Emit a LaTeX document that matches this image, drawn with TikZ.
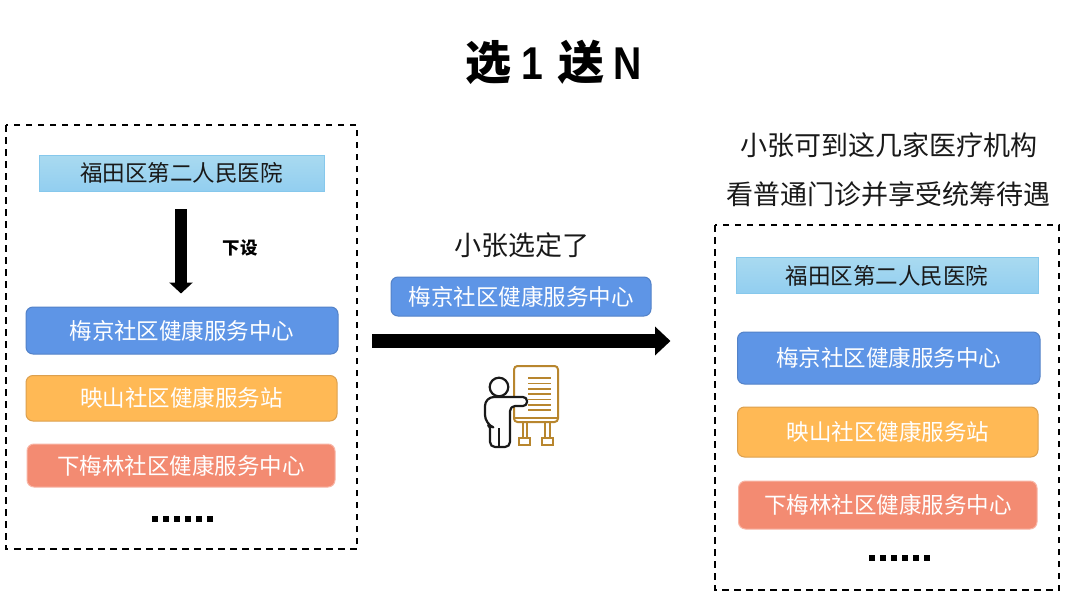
\documentclass[tikz,border=0pt]{standalone}
\usepackage{fontspec}
\setmainfont{Noto Sans CJK SC}
\newfontfamily\narrowlat[FakeStretch=0.85]{Liberation Sans Bold}
\usetikzlibrary{arrows.meta,calc}
\definecolor{blueF}{HTML}{5E95E6}\definecolor{blueD}{HTML}{5382C8}
\definecolor{orgF}{HTML}{FFB955}\definecolor{orgD}{HTML}{DCA04E}
\definecolor{redF}{HTML}{F38B72}\definecolor{redD}{HTML}{F8B5A5}
\definecolor{hospT}{HTML}{A9DAF0}\definecolor{hospB}{HTML}{92CEF0}\definecolor{hospD}{HTML}{86C8EC}
\definecolor{gold}{HTML}{B8862E}
\tikzset{
 x=1pt,y=-1pt,
 txt/.style={inner sep=0pt,font=\fontsize{22.5pt}{26pt}\selectfont},
 big/.style={inner sep=0pt,font=\fontsize{27pt}{32pt}\selectfont,text=black!90},
 dbox/.style={draw=black,line width=2pt,dash pattern=on 6.5pt off 5.5pt},
 pill/.style={rounded corners=7pt,line width=1pt},
 hospbox/.style={draw=hospD,line width=1pt,top color=hospT,bottom color=hospB},
 bluebox/.style={pill,draw=blueD,fill=blueF},
 orgbox/.style={pill,draw=orgD,fill=orgF},
 redbox/.style={pill,draw=redD,fill=redF},
 dotm/.style={fill=black},
 icongold/.style={draw=gold,line width=2pt},
 iconblk/.style={draw=black!90,line width=2.2pt,line join=round}
}
\begin{document}
\begin{tikzpicture}
\useasboundingbox (0,0) rectangle (1080,608);
\fill[white] (0,0) rectangle (1080,608);
\node[inner sep=0pt,font=\fontsize{46pt}{54pt}\selectfont\bfseries] (title) at (553.5,62) {选\hspace{10pt}{\narrowlat 1}\hspace{15pt}送\hspace{9pt}{\narrowlat N}};
% left panel
\draw[dbox] (6,125) rectangle (357,549);
\path[hospbox] (39.5,155) rectangle (324,191);
\node[txt,text=black!90] (lh) at (181.5,173) {福田区第二人民医院};
\path[bluebox] (26,307) rectangle (338,354);
\node[txt,text=white] (lb) at (182,330.5) {梅京社区健康服务中心};
\path[orgbox] (26,375.5) rectangle (337,421);
\node[txt,text=white] (lo) at (181.5,398) {映山社区健康服务站};
\path[redbox] (27,444) rectangle (335,487);
\node[txt,text=white] (lr) at (181,466) {下梅林社区健康服务中心};
\coordinate (da) at (181,209);
\coordinate (db) at (181,293.5);
\draw[line width=12pt,-{Triangle[length=11pt,width=23pt]}] (da) -- (db);
\node[inner sep=0pt,font=\fontsize{17.5pt}{20pt}\selectfont\bfseries] (xs) at (240,248) {下设};
\foreach \i in {0,...,5} \fill[dotm] ({152+\i*11},516) rectangle +(6,6);
% centre
\node[big] (pick) at (521.5,245) {小张选定了};
\path[bluebox] (391,277) rectangle (651,316);
\node[txt,text=white] (cb) at (521,296.5) {梅京社区健康服务中心};
\coordinate (aa) at (372,341);
\coordinate (ab) at (670.5,341);
\draw[line width=14pt,-{Triangle[length=15.5pt,width=28pt]}] (aa) -- (ab);
% icon
\draw[icongold,rounded corners=3.5pt] (514,366) rectangle (558,422);
\draw[icongold] (514,418) -- (558,418);
\foreach \yy in {378.3,383.6,388.9,394.2,399.5,404.8,410} \draw[gold,line width=1.7pt] (528,\yy) -- (551,\yy);
\draw[icongold] (522.5,422) -- (522.5,437) (527,422) -- (527,437) (544.5,422) -- (544.5,437) (549.5,422) -- (549.5,437);
\draw[icongold] (518.5,437.5) rectangle (530,445) (542,437.5) rectangle (553,445);
\draw[iconblk] (499,387) circle (9.3);
\draw[iconblk,fill=white,rounded corners=4pt] (510,406) -- (527,406) -- (527,397) -- (497,397) [rounded corners=9pt] -- (485,397) -- (485,424) [rounded corners=2pt] -- (490,426) [rounded corners=5pt] -- (490,447) -- (510,447) -- cycle;
\draw[iconblk] (499,428) -- (499,447);
% right
\node[big] (r1) at (888.5,145) {小张可到这几家医疗机构};
\node[big] (r2) at (888.5,194) {看普通门诊并享受统筹待遇};
\draw[dbox] (715,225) rectangle (1059,590);
\path[hospbox] (736.5,257) rectangle (1038,293);
\node[txt,text=black!90] (rh) at (887,275.5) {福田区第二人民医院};
\path[bluebox] (737.5,332) rectangle (1040,384);
\node[txt,text=white] (rb) at (888.5,358) {梅京社区健康服务中心};
\path[orgbox] (737.5,407) rectangle (1038,457);
\node[txt,text=white] (ro) at (888,432) {映山社区健康服务站};
\path[redbox] (738.5,481) rectangle (1037,529);
\node[txt,text=white] (rr) at (888,505) {下梅林社区健康服务中心};
\foreach \i in {0,...,5} \fill[dotm] ({869+\i*11},555) rectangle +(6,6);
\end{tikzpicture}
\end{document}
